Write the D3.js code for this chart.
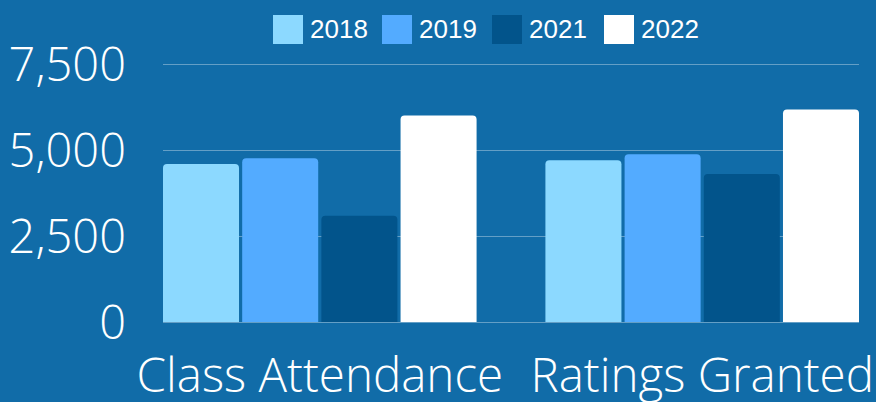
<!DOCTYPE html>
<html><head><meta charset="utf-8">
<script src="https://cdn.jsdelivr.net/npm/d3@7"></script>
<style>
html,body{margin:0;padding:0;background:#116ca8;}
svg{display:block;}
</style></head>
<body>
<svg id="chart" width="876" height="402"></svg>
<script>
const categories = ["Class Attendance", "Ratings Granted"];
const seriesNames = ["2018", "2019", "2021", "2022"];
const values2018 = [4590, 4700];
const values2019 = [4760, 4880];
const values2021 = [3090, 4300];
const values2022 = [6000, 6180];
const yTicks = [0, 2500, 5000, 7500];
const colors = ["#8cd9ff", "#53abff", "#02548b", "#ffffff"];

const seriesValues = [values2018, values2019, values2021, values2022];
const W = 876, H = 402;
const svg = d3.select("#chart");
svg.append("rect").attr("width", W).attr("height", H).attr("fill", "#116ca8");

const y = d3.scaleLinear().domain([0, 7500]).range([322, 64]);
const x0 = d3.scaleBand().domain(categories).range([163, 859]).paddingInner(0.18).paddingOuter(0);
const x1 = d3.scaleBand().domain(seriesNames).range([0, x0.bandwidth()]).paddingInner(0.04).paddingOuter(0);

// gridlines
svg.append("g").selectAll("line").data(yTicks).join("line")
  .attr("x1", 163).attr("x2", 859)
  .attr("y1", d => Math.round(y(d)) + 0.5).attr("y2", d => Math.round(y(d)) + 0.5)
  .attr("stroke", "rgba(255,255,255,0.35)").attr("stroke-width", 1);

// y axis labels
const yAxis = d3.axisLeft(y).tickValues(yTicks).tickFormat(d3.format(",")).tickSize(0).tickPadding(0);
const ga = svg.append("g").attr("transform", "translate(126,0)").call(yAxis);
ga.select(".domain").remove();
ga.selectAll("text")
  .attr("fill", "#ffffff")
  .style("font-family", "'Open Sans', sans-serif")
  .style("font-weight", 300)
  .style("font-size", "47px")
  .attr("dy", "0.36em");

// bars with rounded tops
function barPath(x, yTop, w, yBase, r) {
  r = Math.min(r, w / 2, yBase - yTop);
  return `M${x},${yBase}V${yTop + r}Q${x},${yTop} ${x + r},${yTop}H${x + w - r}Q${x + w},${yTop} ${x + w},${yTop + r}V${yBase}Z`;
}
const groups = svg.append("g").selectAll("g").data(categories).join("g")
  .attr("transform", d => `translate(${x0(d)},0)`);
groups.selectAll("path").data((d, i) => seriesNames.map((s, j) => ({s, v: seriesValues[j][i], c: colors[j]})))
  .join("path")
  .attr("d", d => barPath(x1(d.s), y(d.v), x1.bandwidth(), y(0), 4))
  .attr("fill", d => d.c);

// x axis labels
const xAxis = d3.axisBottom(x0).tickSize(0).tickPadding(0);
const gx = svg.append("g").attr("transform", "translate(0,322)").call(xAxis);
gx.select(".domain").remove();
gx.selectAll("text")
  .attr("fill", "#ffffff")
  .attr("y", 70).attr("dy", 0)
  .style("font-family", "'Open Sans', sans-serif")
  .style("font-weight", 300)
  .style("font-size", "47.5px");

// legend
const legendX = [273, 382, 492, 604];
const lg = svg.append("g").selectAll("g").data(seriesNames).join("g")
  .attr("transform", (d, i) => `translate(${legendX[i]},15)`);
lg.append("rect").attr("width", 30).attr("height", 29).attr("fill", (d, i) => colors[i]);
lg.append("text").attr("x", 37).attr("y", 22.5)
  .attr("fill", "#ffffff")
  .style("font-family", "'Liberation Sans', Arial, sans-serif")
  .style("font-size", "26px")
  .text(d => d);
</script>
</body></html>
